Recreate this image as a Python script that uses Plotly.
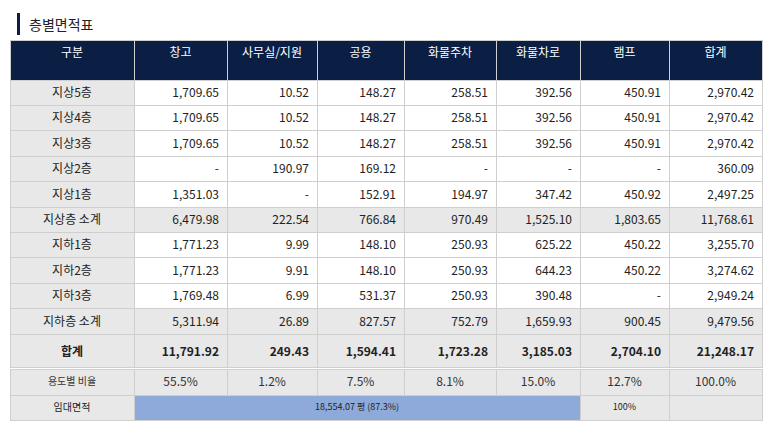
import plotly.graph_objects as go

W, H = 773, 428

columns = ["구분", "창고", "사무실/지원", "공용", "화물주차", "화물차로", "램프", "합계"]
floors = ["지상5층", "지상4층", "지상3층", "지상2층", "지상1층", "지상층 소계",
          "지하1층", "지하2층", "지하3층", "지하층 소계", "합계"]
창고 = ["1,709.65", "1,709.65", "1,709.65", "-", "1,351.03", "6,479.98",
       "1,771.23", "1,771.23", "1,769.48", "5,311.94", "11,791.92"]
사무실 = ["10.52", "10.52", "10.52", "190.97", "-", "222.54",
         "9.99", "9.91", "6.99", "26.89", "249.43"]
공용 = ["148.27", "148.27", "148.27", "169.12", "152.91", "766.84",
       "148.10", "148.10", "531.37", "827.57", "1,594.41"]
화물주차 = ["258.51", "258.51", "258.51", "-", "194.97", "970.49",
         "250.93", "250.93", "250.93", "752.79", "1,723.28"]
화물차로 = ["392.56", "392.56", "392.56", "-", "347.42", "1,525.10",
         "625.22", "644.23", "390.48", "1,659.93", "3,185.03"]
램프 = ["450.91", "450.91", "450.91", "-", "450.92", "1,803.65",
       "450.22", "450.22", "-", "900.45", "2,704.10"]
합계 = ["2,970.42", "2,970.42", "2,970.42", "360.09", "2,497.25", "11,768.61",
       "3,255.70", "3,274.62", "2,949.24", "9,479.56", "21,248.17"]
ratio = ["용도별 비율", "55.5%", "1.2%", "7.5%", "8.1%", "15.0%", "12.7%", "100.0%"]
rent = ["임대면적", "18,554.07 평 (87.3%)", "100%", ""]

col_w = [124, 93, 90, 87, 92, 84, 89, 93]
rent_w = [124, 446, 89, 93]
# plotly offsets table content ~9px right / ~8px down inside its domain
x0, x1 = 2 / W, 754 / W
top = lambda px: 1 - (px - 8) / H
GRAY = "#e8e8e8"
LINE = "#cfcfcf"
FONT = "Noto Sans CJK KR"

n = len(floors)
gray_rows = {"지상층 소계", "지하층 소계", "합계"}
row_fill = [GRAY if f in gray_rows else "white" for f in floors]
fills = [[GRAY] * n] + [row_fill] * 7
body = [floors, 창고, 사무실, 공용, 화물주차, 화물차로, 램프, 합계]
body = [[f"<b>{v}</b>" if floors[i] == "합계" else v for i, v in enumerate(c)] for c in body]

fig = go.Figure()
fig.add_trace(go.Table(
    domain=dict(x=[x0, x1], y=[0, top(40)]),
    columnwidth=col_w,
    header=dict(values=columns, fill_color="#0b1f45", line_color=LINE, height=40,
                font=dict(color="white", size=12, family=FONT), align="center"),
    cells=dict(values=body, fill_color=fills, line_color=LINE, height=25.4,
               font=dict(color="#222", size=12, family=FONT),
               align=["center"] + ["right"] * 7),
))
fig.add_trace(go.Table(
    domain=dict(x=[x0, x1], y=[0, top(369)]),
    columnwidth=col_w,
    header=dict(values=ratio, fill_color=GRAY, line_color=LINE, height=26,
                font=dict(color="#333", size=[10] + [12] * 7, family=FONT), align="center"),
    cells=dict(values=[[]] * 8),
))
fig.add_trace(go.Table(
    domain=dict(x=[x0, x1], y=[0, top(395)]),
    columnwidth=rent_w,
    header=dict(values=rent, fill_color=[GRAY, "#8eaadb", GRAY, GRAY], line_color=LINE,
                height=25, font=dict(color="#222", size=[10, 9, 9, 9], family=FONT),
                align="center"),
    cells=dict(values=[[]] * 4),
))
fig.add_shape(type="rect", xref="paper", yref="paper", x0=9 / W, x1=12 / W,
              y0=1 - 27 / H, y1=1 - 5 / H, fillcolor="#0b1f45", line_width=0)
fig.add_annotation(text="층별면적표", xref="paper", yref="paper", x=19 / W, y=1 - 16 / H,
                   xanchor="left", yanchor="middle", showarrow=False,
                   font=dict(size=14, color="#222", family=FONT))
fig.update_layout(width=W, height=H, margin=dict(l=0, r=0, t=0, b=0),
                  paper_bgcolor="white", plot_bgcolor="white")
fig.write_html("out.html")
